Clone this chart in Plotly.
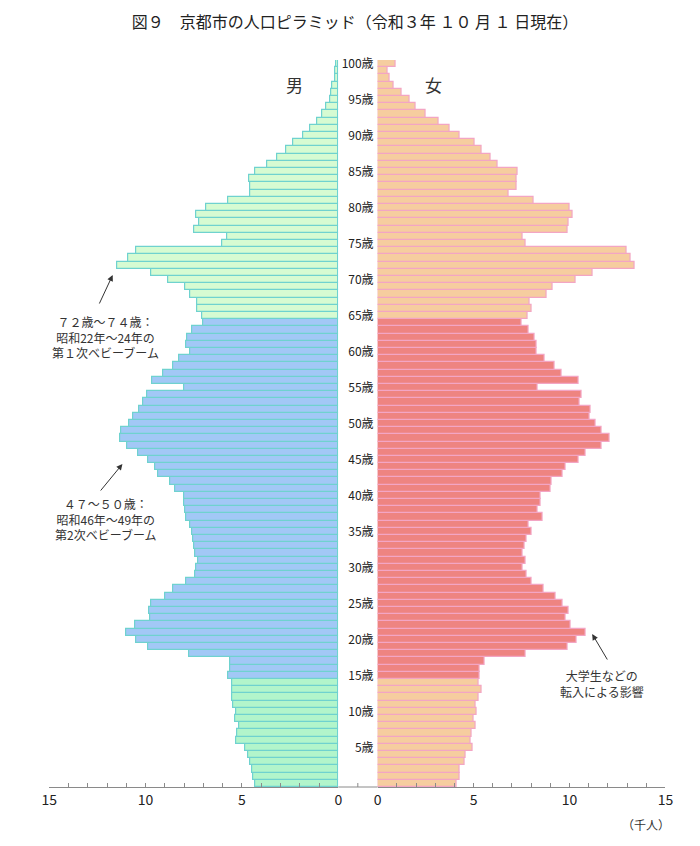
import plotly.graph_objects as go

# ages 0..100 (100 = 100歳以上)
ages = list(range(0, 101))

# 男 (千人)
male = [
    4.32, 4.44, 4.49, 4.58, 4.70, 4.83, 5.32, 5.24, 5.14, 5.34,
    5.29, 5.46, 5.49, 5.52, 5.52, 5.69, 5.59, 5.59, 7.74, 9.88,
    10.46, 11.03, 10.52, 9.76, 9.80, 9.71, 8.99, 8.58, 7.91, 7.45,
    7.35, 7.28, 7.45, 7.50, 7.52, 7.60, 7.69, 7.91, 7.94, 7.98,
    7.99, 8.47, 8.70, 9.35, 9.51, 9.85, 10.39, 10.95, 11.34, 11.27,
    10.87, 10.66, 10.34, 10.14, 9.89, 7.99, 9.65, 9.06, 8.55, 8.25,
    7.69, 7.88, 7.86, 7.60, 7.03, 7.08, 7.33, 7.33, 7.70, 7.96,
    8.83, 9.73, 11.49, 10.90, 10.51, 6.01, 5.76, 7.47, 7.20, 7.38,
    6.84, 5.71, 4.58, 4.58, 4.61, 4.32, 3.67, 3.18, 2.70, 2.36,
    1.81, 1.44, 1.11, 0.81, 0.61, 0.42, 0.39, 0.30, 0.17, 0.14,
    0.10,
]

# 女 (千人)
female = [
    4.10, 4.27, 4.29, 4.54, 4.58, 4.93, 4.86, 4.92, 5.10, 5.00,
    5.14, 5.10, 5.24, 5.41, 5.27, 5.32, 5.32, 5.57, 7.69, 9.90,
    10.39, 10.83, 10.05, 9.78, 9.98, 9.65, 9.29, 8.65, 8.02, 7.77,
    7.55, 7.72, 7.55, 7.65, 7.77, 8.02, 7.87, 8.58, 8.36, 8.50,
    8.50, 9.00, 9.09, 9.63, 9.81, 10.49, 10.84, 11.69, 12.08, 11.67,
    11.35, 11.03, 11.11, 10.52, 10.61, 8.36, 10.47, 9.58, 9.21, 8.70,
    8.28, 8.28, 8.19, 7.85, 7.50, 7.82, 8.02, 7.92, 8.82, 9.10,
    10.30, 11.20, 13.40, 13.19, 12.97, 7.70, 7.57, 9.92, 9.95, 10.14,
    10.00, 8.13, 6.81, 7.23, 7.26, 7.30, 6.28, 5.90, 5.44, 5.03,
    4.29, 3.75, 3.16, 2.50, 1.99, 1.66, 1.23, 0.84, 0.64, 0.51,
    0.93,
]

age_ticks = list(range(5, 101, 5))
age_labels = [f"{a}歳" for a in age_ticks]
x_ticks = list(range(0, 16))
x_labels = [str(v) if v % 5 == 0 else "" for v in x_ticks]

FONT = "Noto Sans CJK JP"
# the page body has an 8px margin, so the figure is a bit smaller and
# positions below are given in window pixels, then shifted
OFF = 8
W, H = 684, 830
TOP, BOTTOM = 60, 787          # plot area in window pixels


def px(x):
    return (x - OFF) / W


def py(y):
    return 1 - (y - TOP) / (BOTTOM - TOP)


def male_color(a):
    if a < 15:
        return "#b2f5cb"
    if a < 65:
        return "#a2c8f6"
    return "#d6fbd2"


def female_color(a):
    if 15 <= a < 65:
        return "#ee8481"
    return "#f6cd9f"


fig = go.Figure()
fig.add_trace(go.Bar(
    y=ages, x=male, orientation="h", xaxis="x", yaxis="y",
    marker=dict(color=[male_color(a) for a in ages],
                line=dict(color="#6fd2cf", width=1.2)),
    width=1, hoverinfo="x+y", showlegend=False))
fig.add_trace(go.Bar(
    y=ages, x=female, orientation="h", xaxis="x2", yaxis="y",
    marker=dict(color=[female_color(a) for a in ages],
                line=dict(color="#f3a5c4", width=1.2)),
    width=1, hoverinfo="x+y", showlegend=False))

axis_common = dict(
    tickvals=x_ticks, ticktext=x_labels, ticks="inside", ticklen=4,
    tickcolor="#8a8a8a", showline=True, linecolor="#8a8a8a", linewidth=1,
    showgrid=False, zeroline=False, anchor="y",
    tickfont=dict(family=FONT, size=14, color="#222222"),
)

fig.update_layout(
    width=W, height=H,
    margin=dict(l=0, r=0, t=TOP - OFF, b=H - (BOTTOM - OFF)),
    paper_bgcolor="white", plot_bgcolor="white",
    bargap=0,
    font=dict(family=FONT, color="#222222"),
    title=dict(text="図９　京都市の人口ピラミッド（令和３年 １０ 月 １ 日現在）",
               x=px(355), xanchor="center", y=1 - (22 - OFF) / H,
               yanchor="middle", yref="container",
               font=dict(family=FONT, size=16, color="#222222")),
    xaxis=dict(domain=[px(42), px(338)], range=[15, 0], **axis_common),
    xaxis2=dict(domain=[px(378.3), px(673)], range=[0, 15], **axis_common),
    yaxis=dict(range=[-0.5, 100.5], anchor="x2", side="left",
               tickvals=age_ticks, ticktext=age_labels, ticks="",
               showgrid=False, zeroline=False, showline=False,
               ticklabelstandoff=3,
               tickfont=dict(family=FONT, size=12, color="#222222")),
)

# baseline between the two halves
fig.add_shape(type="line", xref="paper", yref="paper",
              x0=px(338), x1=px(378.3), y0=0, y1=0,
              line=dict(color="#8a8a8a", width=1))
fig.add_shape(type="line", xref="paper", yref="paper",
              x0=px(358), x1=px(358), y0=0, y1=py(BOTTOM - 4),
              line=dict(color="#8a8a8a", width=1))

notes = [
    dict(text="男", x=293, y=84, size=17),
    dict(text="女", x=435, y=84, size=17),
    dict(text="（千人）", x=653, y=824, size=12),
    dict(text="７２歳～７４歳：<br>昭和22年～24年の<br>第１次ベビーブーム", x=100, y=337, size=12),
    dict(text="４７～５０歳：<br>昭和46年～49年の<br>第2次ベビーブーム", x=100, y=519, size=12),
    dict(text="大学生などの<br>転入による影響", x=608, y=683, size=12),
]
for n in notes:
    fig.add_annotation(text=n["text"], x=px(n["x"]), y=py(n["y"]),
                       xref="paper", yref="paper", showarrow=False,
                       xanchor="center", yanchor="middle",
                       font=dict(family=FONT, size=n["size"], color="#333333"))

arrows = [
    ((107, 275), (93, 305)),
    ((117, 464), (94, 492)),
    ((598, 634), (614, 661)),
]
for (tx, ty), (sx, sy) in arrows:
    fig.add_annotation(x=px(tx), y=py(ty), xref="paper", yref="paper",
                       ax=sx - tx, ay=sy - ty, axref="pixel", ayref="pixel",
                       text="", showarrow=True, arrowhead=2, arrowsize=1.2,
                       arrowwidth=1, arrowcolor="#333333")

fig.write_html("out.html")
